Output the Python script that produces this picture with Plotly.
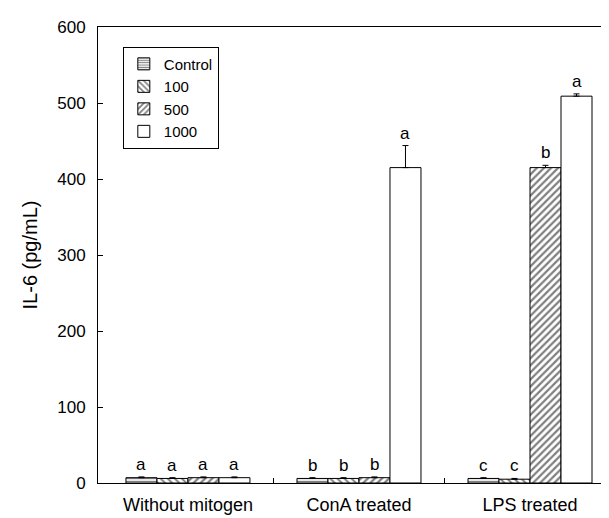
import plotly.graph_objects as go

groups = ["Without mitogen", "ConA treated", "LPS treated"]
series = ["Control", "100", "500", "1000"]
values = {
    "Control": [7, 6, 6],
    "100": [6, 6, 5],
    "500": [7, 7, 415],
    "1000": [7, 415, 509],
}
errors = {
    "Control": [1, 1, 1],
    "100": [1, 1, 1],
    "500": [1, 1, 3],
    "1000": [1, 29, 3],
}
letters = {
    "Control": ["a", "b", "c"],
    "100": ["a", "b", "c"],
    "500": ["a", "b", "b"],
    "1000": ["a", "a", "a"],
}
y_ticks = [0, 100, 200, 300, 400, 500, 600]

patterns = {
    "Control": dict(shape="-", size=3, solidity=0.45, fgcolor="black", bgcolor="white"),
    "100": dict(shape="\\", size=5, solidity=0.4, fgcolor="black", bgcolor="white"),
    "500": dict(shape="/", size=5, solidity=0.45, fgcolor="black", bgcolor="white"),
    "1000": dict(shape="", fgcolor="black", bgcolor="white"),
}

FONT = "Arial, 'Liberation Sans', sans-serif"
bargap = 0.275
xpos = list(range(len(groups)))

fig = go.Figure()
for s in series:
    fig.add_trace(go.Bar(
        name=s, x=xpos, y=values[s],
        marker=dict(color="white", line=dict(color="black", width=1), pattern=patterns[s]),
        error_y=dict(type="data", array=errors[s], arrayminus=[0] * len(groups),
                     symmetric=False, color="black", thickness=1, width=3),
    ))

bw = (1 - bargap) / len(series)
for k, s in enumerate(series):
    for i in range(len(groups)):
        fig.add_annotation(
            x=xpos[i] + (k - (len(series) - 1) / 2) * bw,
            y=values[s][i] + errors[s][i],
            text=letters[s][i], showarrow=False, yanchor="bottom", yshift=1,
            font=dict(family=FONT, size=17, color="black"),
        )

fig.update_layout(
    width=609, height=518,
    margin=dict(l=90, r=2, t=19, b=43),
    paper_bgcolor="white", plot_bgcolor="white",
    barmode="group", bargap=bargap, bargroupgap=0,
    font=dict(family=FONT, size=17, color="black"),
    showlegend=True,
    legend=dict(x=0.048, y=0.957, xanchor="left", yanchor="top",
                bordercolor="black", borderwidth=1, bgcolor="white",
                font=dict(size=15), tracegroupgap=0, itemwidth=30),
)
fig.update_xaxes(
    range=[-0.526, 2.497], tickmode="array", tickvals=xpos, ticktext=groups,
    ticks="", showline=True, linecolor="black", linewidth=1, mirror=True,
    showgrid=False, zeroline=False, ticklabelstandoff=5,
    minor=dict(tickmode="array", tickvals=[0.5, 1.5], ticks="inside", ticklen=5,
               tickcolor="black", showgrid=False),
    tickfont=dict(size=18),
)
fig.update_yaxes(
    range=[0, 600], tickmode="array", tickvals=y_ticks,
    ticks="inside", ticklen=5, tickcolor="black",
    showline=True, linecolor="black", linewidth=1, mirror=True,
    showgrid=False, zeroline=False, ticklabelstandoff=8,
    title=dict(text="IL-6 (pg/mL)", font=dict(size=20), standoff=14),
    tickfont=dict(size=17),
)

fig.write_html("out.html")
